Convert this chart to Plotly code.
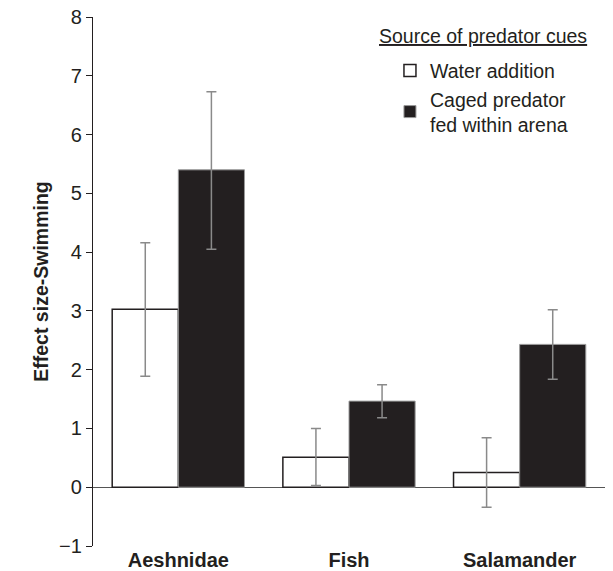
import plotly.graph_objects as go

categories = ["Aeshnidae", "Fish", "Salamander"]
water_vals = [3.03, 0.51, 0.25]
water_hi = [4.16, 1.00, 0.84]
water_lo = [1.89, 0.03, -0.34]
caged_vals = [5.40, 1.465, 2.43]
caged_hi = [6.73, 1.745, 3.02]
caged_lo = [4.05, 1.18, 1.835]
y_ticks = [-1, 0, 1, 2, 3, 4, 5, 6, 7, 8]
y_tick_text = ["\u22121", "0", "1", "2", "3", "4", "5", "6", "7", "8"]

FONT = "Liberation Sans, Arial, sans-serif"
ERR_COLOR = "#8a8a8a"

fig = go.Figure()
fig.add_trace(go.Bar(
    name="Water addition",
    x=categories, y=water_vals,
    marker=dict(color="white", line=dict(color="#231f20", width=1.5)),
    error_y=dict(type="data", symmetric=False,
                 array=[h - v for h, v in zip(water_hi, water_vals)],
                 arrayminus=[v - l for l, v in zip(water_lo, water_vals)],
                 color=ERR_COLOR, thickness=1.5, width=5),
))
fig.add_trace(go.Bar(
    name="Caged predator<br>fed within arena",
    x=categories, y=caged_vals,
    marker=dict(color="#231f20", line=dict(color="#9a9a9a", width=1)),
    error_y=dict(type="data", symmetric=False,
                 array=[h - v for h, v in zip(caged_hi, caged_vals)],
                 arrayminus=[v - l for l, v in zip(caged_lo, caged_vals)],
                 color=ERR_COLOR, thickness=1.5, width=5),
))

fig.update_layout(
    width=613, height=571,
    margin=dict(l=93, r=8, t=17, b=25, autoexpand=False),
    plot_bgcolor="white", paper_bgcolor="white",
    barmode="group", bargap=0.225, bargroupgap=0,
    font=dict(family=FONT, color="#231f20"),
    showlegend=True,
    legend=dict(x=0.58, y=0.935, xanchor="left", yanchor="top",
                bgcolor="rgba(0,0,0,0)", font=dict(size=19.5, family=FONT, color="#231f20"),
                tracegroupgap=0, itemwidth=30, traceorder="normal"),
    annotations=[dict(text="<u>Source of predator cues</u>", xref="paper", yref="paper",
                      x=0.555, y=0.989, xanchor="left", yanchor="top", showarrow=False,
                      font=dict(size=19.5, family=FONT, color="#231f20"))],
)
fig.update_xaxes(range=[-0.5, 2.5], showline=False, ticks="", showgrid=False, automargin=False,
                 tickfont=dict(size=20, family=FONT, color="#231f20", weight="bold"))
fig.update_yaxes(range=[-1, 8], tickvals=y_ticks, ticktext=y_tick_text, automargin=False,
                 showline=True, linecolor="#231f20", linewidth=1.2,
                 ticks="outside", ticklen=6, tickcolor="#231f20", tickwidth=1.2,
                 showgrid=False, zeroline=True, zerolinecolor="#555555", zerolinewidth=1.2,
                 tickfont=dict(size=20, family=FONT, color="#231f20"),
                 title=dict(text="<b>Effect size-Swimming</b>", standoff=5,
                            font=dict(size=19.5, family=FONT, color="#231f20")))

fig.write_html("out.html", config={"displayModeBar": False},
               post_script="document.body.style.margin='0px';")
